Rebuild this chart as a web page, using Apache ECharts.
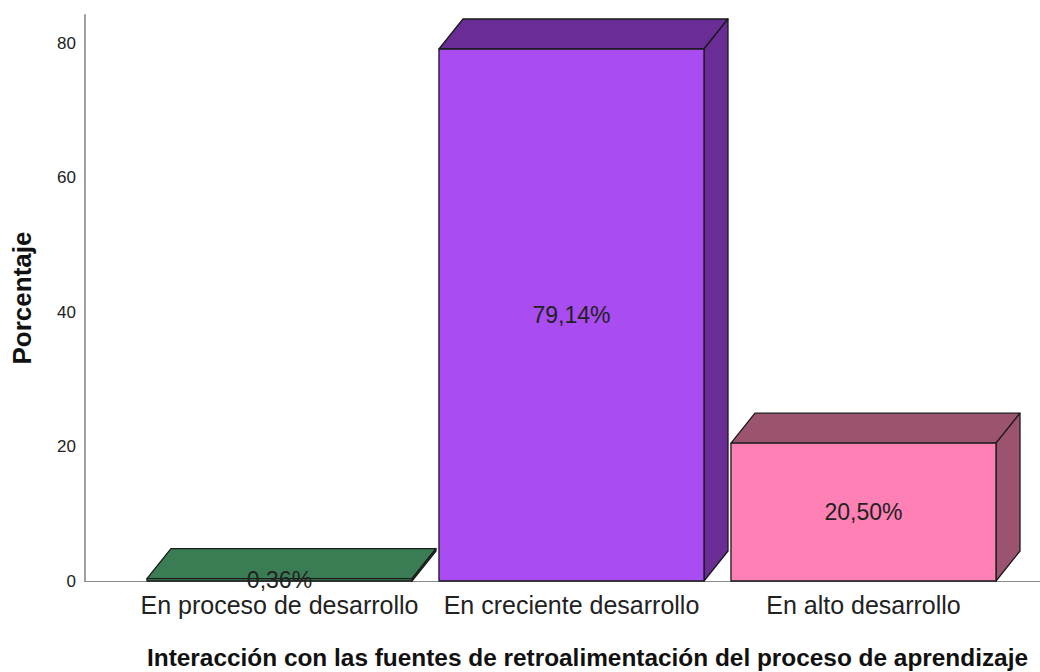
<!DOCTYPE html>
<html>
<head>
<meta charset="utf-8">
<script src="https://cdn.jsdelivr.net/npm/echarts@6/dist/echarts.min.js"></script>
<style>
html,body{margin:0;padding:0;background:#fff;}
#chart{width:1040px;height:672px;}
</style>
</head>
<body>
<div id="chart"></div>
<script>
// ---- data ----
const categories = ['En proceso de desarrollo', 'En creciente desarrollo', 'En alto desarrollo'];
const percentages = [0.36, 79.14, 20.50];
const valueLabels = ['0,36%', '79,14%', '20,50%'];
const yTicks = [0, 20, 40, 60, 80];
const frontColors = ['#3d8259', '#a94cf1', '#ff80b4'];
const darkColors = ['#3a7d55', '#6a2d96', '#9b5370'];

const FONT = '"Liberation Sans", Arial, sans-serif';
const DX = 24, DY = 30, HALF = 0.4538;

const chart = echarts.init(document.getElementById('chart'), null, {renderer: 'svg'});

function renderItem(params, api) {
  const i = api.value(0), v = api.value(1);
  const p0 = api.coord([i - HALF, 0]);
  const p1 = api.coord([i + HALF, v]);
  const l = p0[0], r = p1[0], b = p0[1], t = p1[1];
  const stroke = {stroke: '#1a1a1a', lineWidth: 1.3, lineJoin: 'round'};
  return {
    type: 'group',
    children: [
      {type: 'polygon', shape: {points: [[l, t], [l + DX, t - DY], [r + DX, t - DY], [r, t]]},
        style: Object.assign({fill: darkColors[i]}, stroke)},
      {type: 'polygon', shape: {points: [[r, t], [r + DX, t - DY], [r + DX, b - DY], [r, b]]},
        style: Object.assign({fill: darkColors[i]}, stroke)},
      {type: 'rect', shape: {x: l, y: t, width: r - l, height: b - t},
        style: Object.assign({fill: frontColors[i]}, stroke)},
      {type: 'text', x: (l + r) / 2, y: (t + b) / 2,
        style: {text: valueLabels[i], fill: '#222', font: '23px ' + FONT, align: 'center', verticalAlign: 'middle'}}
    ]
  };
}

chart.setOption({
  animation: false,
  backgroundColor: '#fff',
  title: {
    text: 'Interacción con las fuentes de retroalimentación del proceso de aprendizaje',
    left: 147, top: 645, padding: 0,
    textStyle: {fontFamily: FONT, fontWeight: 'bold', fontSize: 24.4, color: '#111'}
  },
  grid: {left: 85, right: 0, top: 15, bottom: 91},
  xAxis: {
    type: 'value', min: -0.666, max: 2.6045,
    splitLine: {show: false},
    axisLine: {show: true, onZero: false, lineStyle: {color: '#8a8a8a', width: 1.2}},
    axisTick: {show: false},
    axisLabel: {
      customValues: [0, 1, 2],
      formatter: function (v) { return categories[Math.round(v)]; },
      fontFamily: FONT, fontSize: 25, color: '#222', margin: 11
    }
  },
  yAxis: {
    type: 'value', min: 0, max: 84.2,
    name: 'Porcentaje', nameLocation: 'middle', nameGap: 50,
    nameTextStyle: {fontFamily: FONT, fontWeight: 'bold', fontSize: 26, color: '#111'},
    splitLine: {show: false},
    axisLine: {show: true, onZero: false, lineStyle: {color: '#a0a0a0', width: 2}},
    axisTick: {show: false},
    axisLabel: {customValues: yTicks, fontFamily: FONT, fontSize: 17, color: '#222', margin: 9}
  },
  series: [{
    type: 'custom',
    renderItem: renderItem,
    clip: false,
    data: percentages.map((v, i) => [i, v])
  }]
});
</script>
</body>
</html>
